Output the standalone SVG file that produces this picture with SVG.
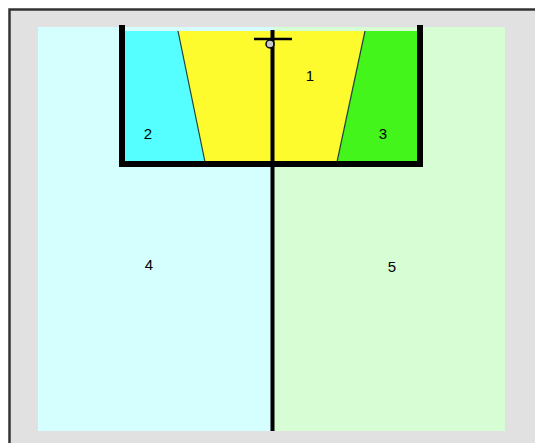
<svg xmlns="http://www.w3.org/2000/svg" width="535" height="443" viewBox="0 0 535 443">
<style>
.lbl{font-family:"Liberation Sans",Arial,sans-serif;font-size:15px;fill:#000;text-anchor:middle}
.edge{stroke:#1d4040;stroke-width:1.2}
</style>
<rect x="0" y="0" width="535" height="443" fill="#ffffff"/>
<rect x="9.5" y="9.5" width="526" height="434" fill="#e1e1e1"/>
<polyline points="9.5,443 9.5,9.5 535,9.5" fill="none" stroke="#333" stroke-width="2.5"/>
<g id="zone4"><rect x="38" y="27" width="235" height="404" fill="#d5ffff"/><text class="lbl" x="149" y="270">4</text></g>
<g id="zone5"><rect x="273" y="27" width="232" height="404" fill="#d7fdd5"/><text class="lbl" x="392" y="272">5</text></g>
<g id="zone2"><polygon points="122,31 178,31 205,163 122,163" fill="#55ffff"/><text class="lbl" x="148" y="139">2</text></g>
<g id="zone3"><polygon points="365,31 420,31 420,163 337,163" fill="#44f51c"/><text class="lbl" x="383" y="139">3</text></g>
<g id="zone1"><polygon points="178,31 365,31 337,163 205,163" fill="#fdfb2e"/><text class="lbl" x="310" y="81">1</text></g>
<g id="connectors">
<line class="edge" x1="178" y1="31" x2="205" y2="162"/>
<line class="edge" x1="365" y1="31" x2="337" y2="162"/>
<polyline points="122,25 122,164 420,164 420,25" fill="none" stroke="#000" stroke-width="6"/>
<line x1="272.5" y1="30" x2="272.5" y2="431" stroke="#000" stroke-width="4"/>
<line x1="254" y1="39" x2="292" y2="39" stroke="#000" stroke-width="2.5"/>
<circle cx="270" cy="44" r="4" fill="#c8c8c8" stroke="#000" stroke-width="1.5"/>
</g>
</svg>
